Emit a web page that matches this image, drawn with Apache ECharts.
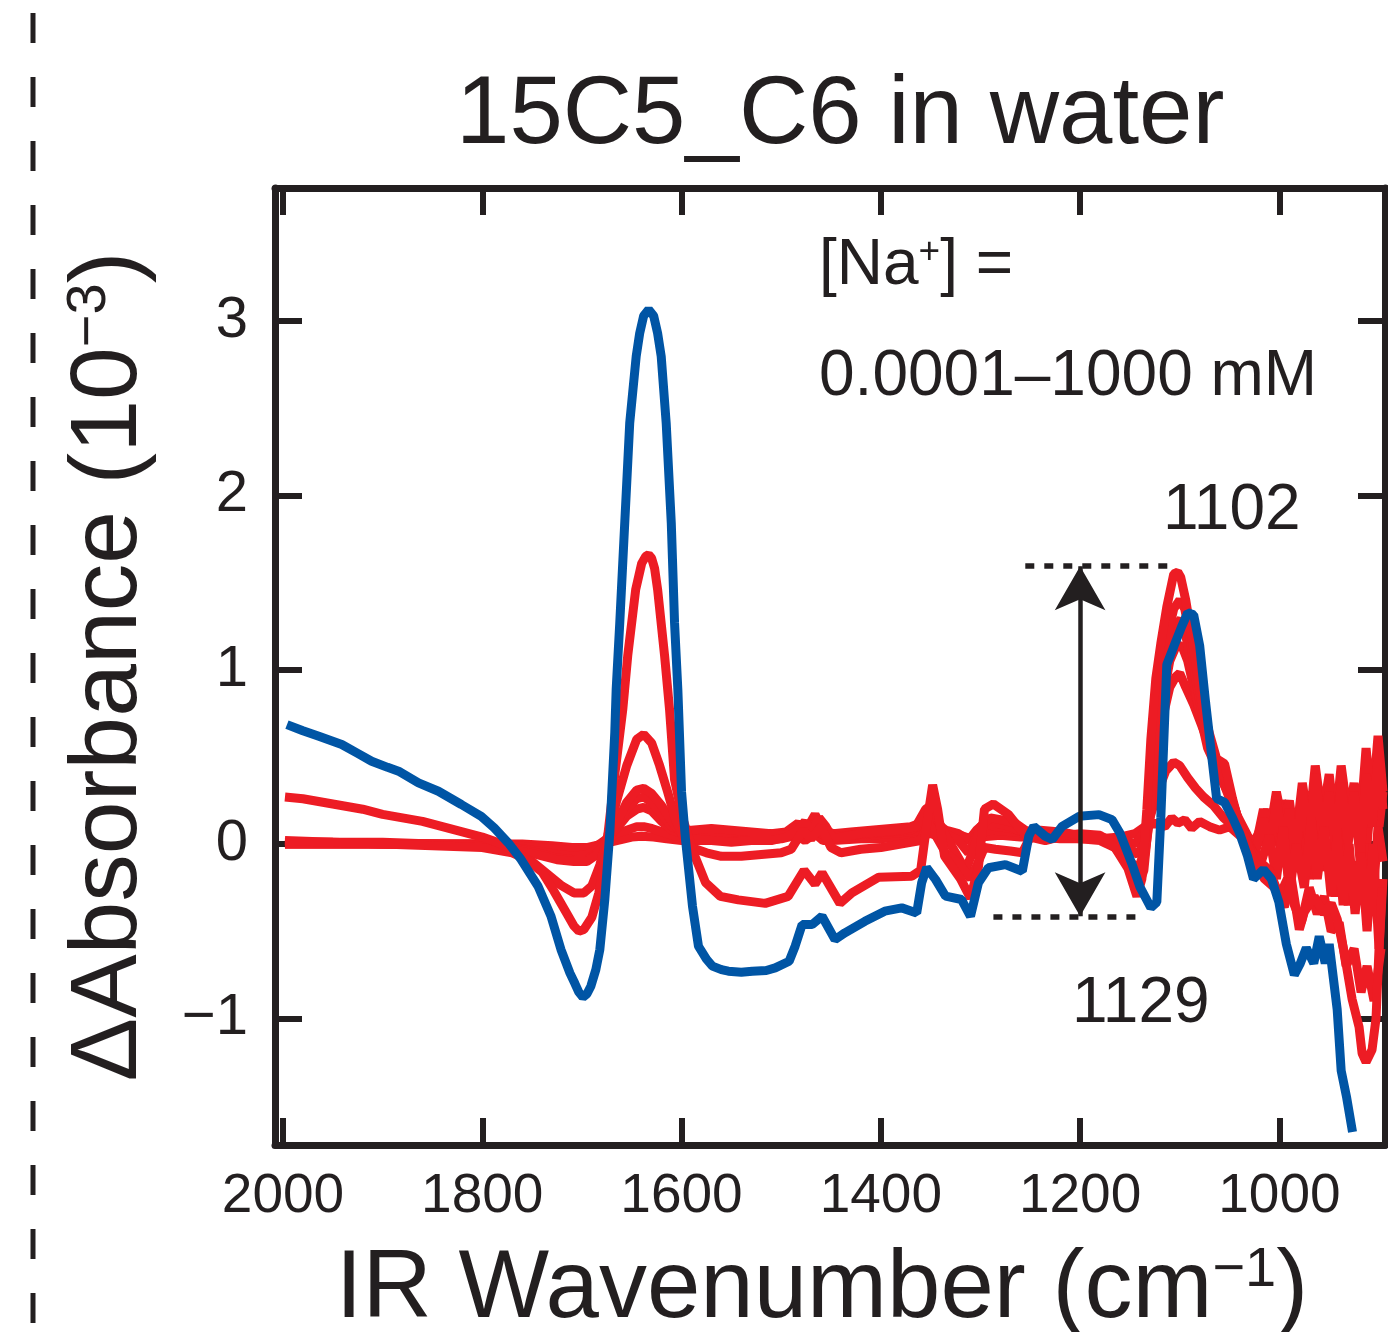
<!DOCTYPE html>
<html>
<head>
<meta charset="utf-8">
<script src="https://cdn.jsdelivr.net/npm/echarts@6/dist/echarts.min.js"></script>
<style>
html,body{margin:0;padding:0;background:#fff;}
#chart{width:1388px;height:1332px;}
</style>
</head>
<body>
<div id="chart"></div>
<script>
// ---------------- DATA ----------------
const titleText = '15C5_C6 in water';
const xTicks = [2000, 1800, 1600, 1400, 1200, 1000];
const yTicks = [-1, 0, 1, 2, 3];
const xRange = [894, 2008];
const yRange = [-1.726, 3.763];

// [Na+] = 0.0001 mM
const red_0p0001mM = [[1998,0.0],[1950,0.0],[1900,0.0],[1850,0.0],[1800,0.0],[1760,0.0],[1730,-0.01],[1710,-0.02],[1695,-0.02],[1680,0.0],[1665,0.02],[1650,0.04],[1640,0.045],[1628,0.04],[1615,0.03],[1600,0.02],[1580,0.02],[1560,0.02],[1540,0.02],[1520,0.02],[1500,0.03],[1485,0.05],[1476,0.02],[1466,0.06],[1458,0.02],[1448,0.02],[1420,0.03],[1400,0.03],[1380,0.04],[1360,0.05],[1350,0.06],[1340,0.04],[1320,0.03],[1300,0.04],[1280,0.05],[1260,0.04],[1240,0.04],[1220,0.03],[1200,0.03],[1180,0.03],[1160,0.04],[1145,0.06],[1135,0.1],[1125,0.12],[1115,0.1],[1108,0.15],[1102,0.12],[1095,0.14],[1088,0.09],[1080,0.13],[1070,0.1],[1060,0.08],[1050,0.1],[1040,0.05],[1030,0.03],[1020,0.0],[1012,0.2],[1005,0.0],[998,0.25],[991,0.05],[985,0.15],[978,-0.05],[971,0.2],[964,0.0],[958,0.3],[951,0.05],[945,0.2],[938,-0.1],[931,0.25],[925,0.05],[918,0.3],[912,0.0],[906,0.4],[900,0.1],[896,0.3]];
// 0.001 mM
const red_0p001mM = [[1998,0.0],[1950,0.0],[1900,0.0],[1850,0.0],[1800,0.0],[1770,-0.01],[1745,-0.02],[1725,-0.03],[1708,-0.04],[1695,-0.03],[1685,-0.01],[1675,0.03],[1665,0.06],[1655,0.08],[1645,0.1],[1638,0.1],[1630,0.09],[1620,0.07],[1610,0.05],[1600,0.04],[1580,0.03],[1560,0.03],[1540,0.03],[1520,0.04],[1500,0.05],[1485,0.08],[1476,0.05],[1466,0.1],[1458,0.05],[1448,0.04],[1430,0.05],[1410,0.05],[1390,0.06],[1370,0.07],[1356,0.08],[1350,0.1],[1344,0.08],[1335,0.06],[1320,0.05],[1310,0.03],[1300,0.06],[1290,0.08],[1270,0.07],[1250,0.06],[1230,0.05],[1210,0.05],[1190,0.04],[1170,0.03],[1155,0.02],[1145,0.0],[1138,0.05],[1130,0.15],[1122,0.3],[1114,0.42],[1106,0.47],[1100,0.45],[1092,0.38],[1084,0.32],[1076,0.27],[1066,0.22],[1056,0.15],[1046,0.1],[1036,0.05],[1026,0.0],[1018,0.1],[1010,-0.05],[1004,0.15],[997,-0.1],[990,0.1],[984,-0.15],[977,0.05],[970,-0.2],[964,0.1],[957,-0.15],[950,0.0],[944,-0.3],[938,-0.05],[931,-0.35],[925,-0.1],[919,-0.3],[913,0.0],[907,-0.4],[901,0.1],[896,-0.1]];
// 0.01 mM
const red_0p01mM = [[1998,0.01],[1950,0.01],[1900,0.01],[1850,0.0],[1800,-0.01],[1770,-0.02],[1745,-0.04],[1725,-0.06],[1708,-0.07],[1695,-0.06],[1685,-0.03],[1675,0.03],[1665,0.09],[1655,0.16],[1645,0.2],[1638,0.21],[1630,0.19],[1620,0.13],[1610,0.08],[1600,0.06],[1590,0.06],[1570,0.07],[1550,0.07],[1530,0.06],[1510,0.06],[1495,0.07],[1483,0.12],[1476,0.07],[1466,0.17],[1458,0.08],[1448,0.06],[1430,0.07],[1410,0.08],[1390,0.09],[1370,0.1],[1356,0.13],[1350,0.16],[1344,0.12],[1335,0.08],[1322,0.06],[1312,0.02],[1304,0.08],[1296,0.12],[1285,0.1],[1270,0.09],[1255,0.07],[1240,0.06],[1220,0.06],[1200,0.05],[1180,0.04],[1165,0.02],[1152,-0.02],[1142,-0.06],[1136,0.0],[1130,0.15],[1124,0.4],[1118,0.7],[1110,0.9],[1104,0.96],[1100,0.98],[1094,0.9],[1086,0.8],[1078,0.68],[1070,0.56],[1062,0.45],[1052,0.32],[1042,0.16],[1032,0.05],[1024,-0.02],[1016,0.2],[1010,0.05],[1003,0.3],[996,0.1],[990,0.25],[984,0.0],[977,0.35],[970,0.1],[964,0.45],[957,0.15],[950,0.4],[944,0.1],[938,0.45],[931,0.15],[925,0.35],[919,0.1],[913,0.55],[907,0.2],[901,0.62],[896,0.3]];
// 0.1 mM
const red_0p1mM = [[1998,0.0],[1950,0.0],[1900,0.0],[1850,0.0],[1800,0.0],[1770,-0.02],[1745,-0.05],[1725,-0.08],[1708,-0.09],[1695,-0.09],[1685,-0.05],[1675,0.02],[1665,0.1],[1655,0.2],[1645,0.26],[1638,0.27],[1630,0.24],[1620,0.17],[1610,0.1],[1600,0.08],[1590,0.08],[1570,0.09],[1550,0.08],[1530,0.07],[1510,0.06],[1495,0.05],[1483,0.1],[1476,0.05],[1468,0.12],[1460,0.06],[1450,0.04],[1430,0.05],[1410,0.06],[1390,0.07],[1370,0.08],[1356,0.12],[1350,0.14],[1344,0.1],[1335,0.06],[1322,0.02],[1312,-0.05],[1304,0.05],[1296,0.12],[1285,0.12],[1270,0.1],[1255,0.06],[1240,0.05],[1220,0.05],[1200,0.04],[1180,0.03],[1165,0.0],[1152,-0.08],[1142,-0.15],[1136,-0.05],[1130,0.2],[1124,0.5],[1118,0.8],[1110,1.05],[1104,1.13],[1098,1.14],[1092,1.05],[1086,0.9],[1078,0.7],[1070,0.55],[1062,0.42],[1052,0.3],[1042,0.15],[1032,0.02],[1024,-0.05],[1016,0.15],[1010,-0.05],[1003,0.25],[996,0.0],[990,0.2],[984,-0.1],[977,0.3],[970,0.0],[964,0.4],[957,0.05],[950,0.3],[944,-0.05],[938,0.35],[931,0.0],[925,0.3],[919,-0.1],[913,0.4],[907,0.1],[901,0.5],[896,0.2]];
// 1 mM
const red_1mM = [[1998,0.01],[1950,0.01],[1900,0.0],[1850,0.0],[1800,-0.01],[1770,-0.03],[1745,-0.06],[1725,-0.09],[1708,-0.1],[1695,-0.1],[1685,-0.06],[1675,0.02],[1665,0.12],[1655,0.24],[1645,0.31],[1638,0.32],[1630,0.29],[1620,0.22],[1610,0.13],[1600,0.06],[1590,0.03],[1570,0.02],[1550,0.01],[1530,0.02],[1510,0.02],[1495,0.04],[1483,0.08],[1476,0.13],[1470,0.06],[1462,0.15],[1455,0.1],[1448,0.03],[1440,0.04],[1420,0.06],[1400,0.07],[1380,0.08],[1365,0.1],[1355,0.2],[1350,0.22],[1344,0.15],[1335,0.05],[1325,-0.05],[1315,-0.15],[1308,-0.05],[1300,0.1],[1290,0.15],[1280,0.14],[1265,0.12],[1255,0.08],[1240,0.05],[1220,0.04],[1200,0.03],[1180,0.02],[1165,-0.02],[1152,-0.12],[1142,-0.2],[1136,-0.1],[1130,0.15],[1124,0.5],[1118,0.85],[1112,1.1],[1105,1.25],[1099,1.29],[1094,1.2],[1088,1.0],[1080,0.75],[1072,0.55],[1064,0.45],[1056,0.35],[1046,0.2],[1036,0.05],[1026,-0.05],[1018,-0.1],[1010,0.05],[1003,-0.2],[996,0.1],[990,-0.28],[983,0.0],[975,-0.25],[968,0.15],[962,-0.2],[955,0.1],[948,-0.3],[942,0.05],[936,-0.35],[930,0.0],[924,-0.4],[918,-0.05],[912,-0.5],[906,0.0],[900,-0.6],[896,-0.2]];
// 10 mM
const red_10mM = [[1998,0.02],[1950,0.01],[1900,0.0],[1850,-0.01],[1800,-0.02],[1770,-0.05],[1750,-0.1],[1735,-0.17],[1720,-0.24],[1708,-0.28],[1698,-0.28],[1690,-0.24],[1682,-0.12],[1674,0.05],[1665,0.25],[1655,0.45],[1645,0.6],[1638,0.63],[1630,0.58],[1622,0.45],[1614,0.3],[1606,0.14],[1598,0.04],[1590,-0.02],[1575,-0.05],[1560,-0.07],[1540,-0.07],[1520,-0.06],[1500,-0.05],[1490,-0.03],[1478,0.08],[1470,0.03],[1460,0.1],[1450,-0.02],[1440,-0.05],[1420,-0.03],[1400,-0.02],[1380,0.0],[1360,0.02],[1352,0.12],[1345,0.05],[1335,-0.05],[1320,-0.12],[1310,-0.2],[1302,-0.1],[1296,-0.02],[1285,-0.03],[1270,-0.04],[1258,-0.05],[1250,0.04],[1235,0.02],[1215,0.05],[1200,0.06],[1180,0.05],[1165,0.0],[1152,-0.1],[1142,-0.25],[1136,-0.15],[1130,0.2],[1124,0.6],[1118,0.95],[1112,1.2],[1106,1.35],[1100,1.4],[1095,1.35],[1090,1.2],[1084,0.95],[1076,0.7],[1068,0.55],[1060,0.45],[1050,0.3],[1040,0.12],[1030,-0.02],[1020,-0.1],[1010,-0.15],[1000,-0.3],[992,-0.2],[985,-0.35],[978,-0.45],[970,-0.25],[962,-0.4],[955,-0.3],[948,-0.5],[940,-0.45],[933,-0.7],[925,-0.6],[918,-0.85],[912,-0.7],[905,-0.9],[898,-0.6]];
// 100 mM
const red_100mM = [[1998,0.27],[1980,0.26],[1960,0.24],[1940,0.22],[1920,0.2],[1900,0.17],[1880,0.15],[1860,0.13],[1840,0.1],[1820,0.07],[1800,0.04],[1785,0.01],[1770,-0.03],[1755,-0.09],[1740,-0.16],[1728,-0.27],[1715,-0.4],[1708,-0.47],[1703,-0.5],[1698,-0.49],[1690,-0.42],[1683,-0.28],[1676,-0.05],[1668,0.35],[1659,0.77],[1654,1.08],[1646,1.46],[1640,1.61],[1636,1.65],[1633,1.66],[1630,1.64],[1627,1.58],[1624,1.46],[1617,1.08],[1612,0.77],[1607,0.37],[1599,0.15],[1588,-0.05],[1576,-0.22],[1561,-0.3],[1543,-0.32],[1516,-0.34],[1493,-0.3],[1477,-0.15],[1466,-0.23],[1459,-0.165],[1441,-0.34],[1429,-0.28],[1402,-0.19],[1369,-0.185],[1360,-0.15],[1353,0.15],[1348,0.34],[1343,0.2],[1336,-0.07],[1320,-0.2],[1310,-0.31],[1302,-0.13],[1296,0.2],[1287,0.23],[1272,0.17],[1258,0.07],[1240,0.08],[1220,0.07],[1200,0.05],[1180,0.04],[1165,-0.02],[1152,-0.14],[1143,-0.3],[1138,-0.2],[1133,0.2],[1129,0.6],[1124,0.95],[1119,1.15],[1113,1.36],[1106,1.55],[1102,1.56],[1099,1.53],[1094,1.4],[1086,1.12],[1078,0.81],[1070,0.63],[1063,0.49],[1055,0.46],[1047,0.26],[1040,0.11],[1032,0.0],[1025,-0.1],[1015,-0.2],[1005,-0.25],[995,-0.36],[988,-0.2],[980,-0.49],[975,-0.39],[965,-0.3],[955,-0.4],[948,-0.34],[942,-0.43],[935,-0.62],[927,-0.89],[920,-1.05],[917,-1.2],[913,-1.25],[907,-1.18],[903,-1.0],[900,-0.6],[897,-0.25]];
// 1000 mM
const blue_1000mM = [[1996,0.685],[1980,0.65],[1964,0.618],[1941,0.571],[1925,0.52],[1911,0.475],[1895,0.44],[1884,0.418],[1864,0.351],[1844,0.303],[1821,0.227],[1801,0.159],[1788,0.093],[1774,0.007],[1761,-0.089],[1744,-0.242],[1731,-0.414],[1721,-0.605],[1712,-0.74],[1707,-0.8],[1703,-0.85],[1699,-0.878],[1695,-0.86],[1691,-0.815],[1686,-0.72],[1682,-0.605],[1677,-0.318],[1672,0.064],[1667,0.638],[1665.6,0.886],[1662,1.268],[1657,1.842],[1652,2.415],[1645.5,2.797],[1642,2.93],[1638,3.03],[1633,3.065],[1628,3.03],[1624,2.93],[1620.4,2.797],[1615.4,2.415],[1610.3,1.842],[1607,1.268],[1603.7,0.886],[1600,0.3],[1596,0.026],[1589,-0.357],[1583,-0.586],[1575,-0.66],[1569,-0.7],[1560,-0.72],[1553,-0.729],[1540,-0.735],[1529,-0.729],[1515,-0.725],[1506,-0.71],[1492,-0.672],[1486,-0.586],[1479,-0.462],[1469,-0.462],[1459,-0.414],[1446,-0.548],[1436,-0.509],[1416,-0.443],[1396,-0.385],[1379,-0.366],[1364,-0.395],[1359,-0.222],[1354,-0.136],[1345,-0.204],[1335,-0.299],[1319,-0.318],[1310,-0.414],[1302,-0.222],[1292,-0.136],[1275,-0.118],[1258,-0.156],[1251.5,0.045],[1246.5,0.102],[1235,0.045],[1228,0.026],[1218,0.102],[1201,0.159],[1181,0.169],[1168,0.14],[1160,0.063],[1148,-0.113],[1140,-0.245],[1129,-0.365],[1123,-0.333],[1119,0.151],[1113,1.029],[1105.5,1.139],[1098,1.249],[1092,1.326],[1086,1.315],[1080,1.139],[1074,0.81],[1067,0.458],[1063,0.261],[1055,0.239],[1047,0.151],[1040,0.063],[1032,-0.069],[1026,-0.2],[1016,-0.146],[1008,-0.2],[1000.5,-0.333],[993,-0.574],[985,-0.75],[979,-0.684],[973,-0.596],[965.5,-0.684],[960,-0.53],[954,-0.684],[950,-0.574],[942,-0.948],[938,-1.299],[932.5,-1.453],[926.6,-1.651]];

// annotation values (data units)
const peakLevel = 1.594;      // top dotted line (1102 band max)
const dipLevel = -0.414;      // bottom dotted line (1129 band min)
const topDotX = [1255, 1105];
const bottomDotX = [1287, 1135];
const arrowX = 1200;

// ---------------- STYLE ----------------
const FONT = '"Liberation Sans", Arial, Helvetica, sans-serif';
const INK = '#231F20';
const RED = '#ED1C24';
const BLUE = '#0055A5';

const redSets = [
  ['0.0001 mM', red_0p0001mM], ['0.001 mM', red_0p001mM], ['0.01 mM', red_0p01mM],
  ['0.1 mM', red_0p1mM], ['1 mM', red_1mM], ['10 mM', red_10mM], ['100 mM', red_100mM]
];

const series = redSets.map(([name, d]) => ({
  name, type: 'line', data: d, showSymbol: false, z: 2,
  lineStyle: { color: RED, width: 9 }, itemStyle: { color: RED }
}));
series.push({
  name: '1000 mM', type: 'line', data: blue_1000mM, showSymbol: false, z: 3,
  lineStyle: { color: BLUE, width: 9 }, itemStyle: { color: BLUE }
});
series.push({
  name: 'annot', type: 'line', data: [], z: 4,
  markLine: {
    silent: true, label: { show: false }, emphasis: { disabled: true },
    symbol: 'none',
    lineStyle: { color: INK, width: 5.5, type: [9, 10] },
    data: [
      [{ coord: [topDotX[0], peakLevel] }, { coord: [topDotX[1], peakLevel] }],
      [{ coord: [bottomDotX[0], dipLevel] }, { coord: [bottomDotX[1], dipLevel] }],
      [{ coord: [arrowX, peakLevel], symbol: 'arrow', symbolSize: [38, 44],
         lineStyle: { type: 'solid', width: 4.5, color: INK } },
       { coord: [arrowX, dipLevel], symbol: 'arrow', symbolSize: [38, 44] }]
    ]
  }
});

const axisLineStyle = { color: INK, width: 7 };
const tickStyle = { color: INK, width: 6 };

const option = {
  backgroundColor: '#fff',
  animation: false,
  title: {
    text: titleText, left: 456, top: 69, padding: 0,
    textStyle: { fontFamily: FONT, fontSize: 96, fontWeight: 'normal', color: INK }
  },
  grid: { left: 275, right: 3, top: 188, bottom: 187, containLabel: false, outerBoundsMode: 'none', show: false },
  xAxis: [{
    type: 'value', position: 'bottom', inverse: true, min: xRange[0], max: xRange[1],
    axisLine: { show: true, onZero: false, lineStyle: axisLineStyle },
    axisTick: { show: true, inside: true, length: 27, lineStyle: tickStyle, customValues: xTicks },
    axisLabel: { show: true, customValues: xTicks, margin: 24, fontFamily: FONT, fontSize: 55, color: INK,
      formatter: v => String(v) },
    splitLine: { show: false },
    name: 'IR Wavenumber (cm{sup|\u22121})', nameLocation: 'middle', nameGap: 98,
    nameTextStyle: { fontFamily: FONT, fontSize: 96, color: INK, padding: [0, 16, 0, 0],
      rich: { sup: { fontFamily: FONT, fontSize: 56, color: INK, verticalAlign: 'top' } } }
  }, {
    type: 'value', position: 'top', inverse: true, min: xRange[0], max: xRange[1],
    axisLine: { show: true, onZero: false, lineStyle: axisLineStyle },
    axisTick: { show: true, inside: true, length: 27, lineStyle: tickStyle, customValues: xTicks },
    axisLabel: { show: false }, splitLine: { show: false }
  }],
  yAxis: [{
    type: 'value', position: 'left', min: yRange[0], max: yRange[1],
    axisLine: { show: true, onZero: false, lineStyle: axisLineStyle },
    axisTick: { show: true, inside: true, length: 27, lineStyle: tickStyle, customValues: yTicks },
    axisLabel: { show: true, customValues: yTicks, margin: 27, fontFamily: FONT, fontSize: 58, color: INK,
      formatter: v => (v < 0 ? '\u2212' + Math.abs(v) : String(v)) },
    splitLine: { show: false },
    name: '\u0394Absorbance (10{sup|\u22123})', nameLocation: 'middle', nameGap: 118,
    nameTextStyle: { fontFamily: FONT, fontSize: 95, color: INK,
      rich: { sup: { fontFamily: FONT, fontSize: 56, color: INK, verticalAlign: 'top' } } }
  }, {
    type: 'value', position: 'right', min: yRange[0], max: yRange[1],
    axisLine: { show: true, onZero: false, lineStyle: axisLineStyle },
    axisTick: { show: true, inside: true, length: 27, lineStyle: tickStyle, customValues: yTicks },
    axisLabel: { show: false }, splitLine: { show: false }
  }],
  graphic: [
    { type: 'line', silent: true, shape: { x1: 33, y1: 13, x2: 33, y2: 1332 },
      style: { stroke: INK, lineWidth: 5, lineDash: [30, 34] } },
    { type: 'text', silent: true, x: 819, y: 266,
      style: { text: '[Na{sup|+}] =', font: '64px ' + FONT, fill: INK, align: 'left', verticalAlign: 'middle',
        textAlign: 'left', textVerticalAlign: 'middle',
        rich: { sup: { fontFamily: FONT, fontSize: 37, fill: INK, color: INK, verticalAlign: 'top' } } } },
    { type: 'text', silent: true, x: 819, y: 377,
      style: { text: '0.0001\u20131000 mM', font: '64px ' + FONT, fill: INK, align: 'left', verticalAlign: 'middle',
        textAlign: 'left', textVerticalAlign: 'middle' } },
    { type: 'text', silent: true, x: 1163, y: 511,
      style: { text: '1102', font: '64px ' + FONT, fill: INK, align: 'left', verticalAlign: 'middle',
        textAlign: 'left', textVerticalAlign: 'middle' } },
    { type: 'text', silent: true, x: 1072, y: 1004,
      style: { text: '1129', font: '64px ' + FONT, fill: INK, align: 'left', verticalAlign: 'middle',
        textAlign: 'left', textVerticalAlign: 'middle' } }
  ],
  series
};

const chart = echarts.init(document.getElementById('chart'), null, { renderer: 'canvas' });
chart.setOption(option);
</script>
</body>
</html>
